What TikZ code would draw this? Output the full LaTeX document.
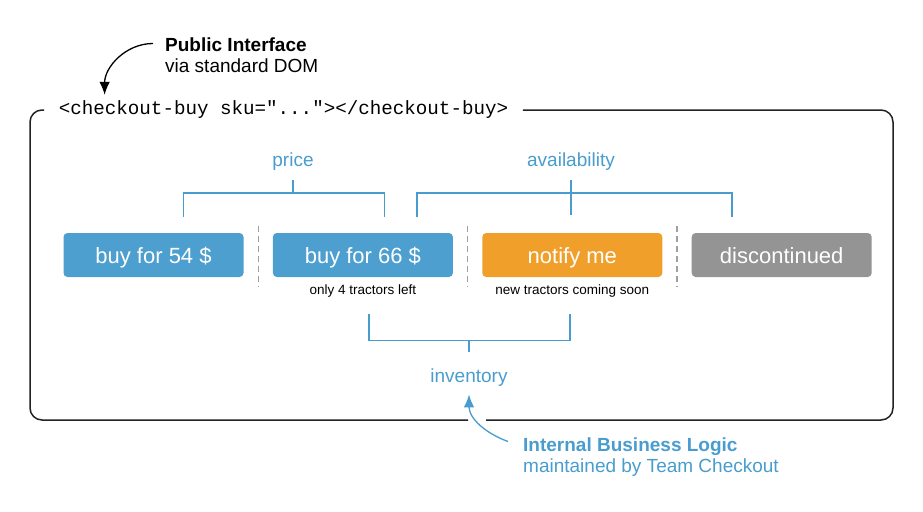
\documentclass[tikz,border=0pt]{standalone}
\usepackage{fontspec}
\setmainfont{Liberation Sans}
\setmonofont{Liberation Mono}
\usetikzlibrary{arrows.meta, positioning, calc}

\definecolor{btnblue}{RGB}{76,159,206}
\definecolor{lblblue}{RGB}{72,157,206}
\definecolor{btnorange}{RGB}{240,160,42}
\definecolor{btngray}{RGB}{148,148,148}
\definecolor{framegray}{RGB}{34,34,34}

\begin{document}
\begin{tikzpicture}[x=1pt, y=-1pt, node distance=29pt,
    btn/.style={rounded corners=4pt, minimum width=180pt, minimum height=44pt, inner sep=0pt,
      text height=19pt, text depth=3pt, text=white, font=\fontsize{22}{24}\selectfont},
    lbl/.style={text=lblblue, font=\fontsize{19}{22}\selectfont},
    note/.style={inner sep=0pt, font=\fontsize{13.5}{15}\selectfont},
    callout/.style={anchor=west, align=left, inner sep=0pt, font=\fontsize{19}{21}\selectfont},
    bracket/.style={draw=lblblue, line width=1.4pt},
    sep/.style={draw=gray!75, line width=1.4pt, dash pattern=on 6pt off 4pt},
    outline/.style={draw=framegray, line width=1.5pt, rounded corners=12pt},
    pointer/.style={-{Latex[length=13pt,width=10.5pt]}, line width=1.3pt}]
  \useasboundingbox (0,0) rectangle (923,511);
  % custom element tag and component frame
  \node[font=\ttfamily\fontsize{19.2}{22}\selectfont, inner xsep=14.5pt, inner ysep=0pt] (tag) at (283.5,110)
    {<checkout-buy sku="..."></checkout-buy>};
  \draw[outline] (tag.west) -- (30,110) -- (30,420) -- (468,420);
  \draw[outline] (tag.east) -- (893,110) -- (893,420) -- (486,420);
  \node[callout] (pub) at (165,55.5) {\textbf{Public Interface}\\via standard DOM};
  \draw[pointer]
    ([xshift=-12pt,yshift=12pt]pub.west) to[out=180,in=90] ([xshift=60.5pt,yshift=6pt]tag.north west);
  % buttons
  \node[btn, fill=btnblue] (b1) at (153.5,255) {buy for 54 \$};
  \node[btn, fill=btnblue, right=of b1] (b2) {buy for 66 \$};
  \node[btn, fill=btnorange, right=of b2] (b3) {notify me};
  \node[btn, fill=btngray, right=of b3] (b4) {discontinued};
  \node[note, below=7pt of b2] (n2) {only 4 tractors left};
  \node[note, below=7pt of b3] (n3) {new tractors coming soon};
  \foreach \l/\r in {b1/b2, b2/b3, b3/b4}
    \draw[sep] ($(\l.east)!0.5!(\r.west)$) ++(0,-29) -- ++(0,61);
  % fragments
  \node[lbl] (price) at (293,162) {price};
  \node[lbl] (avail) at (571,162) {availability};
  \node[lbl] (inv) at (469,378) {inventory};
  \draw[bracket] (price) ++(0,18) -- ++(0,13);
  \draw[bracket] (b1.north) ++(30,-16) |- ++(201,-24) -- ++(0,24);
  \draw[bracket] (avail) ++(0,18) -- ++(0,35);
  \draw[bracket] (b2.north) ++(54,-16) |- ++(315,-24) -- ++(0,24);
  \draw[bracket] (b2.south) ++(6,37) |- ++(201,26) -- ++(0,-26);
  \draw[bracket] (inv) ++(0,-38) -- ++(0,12);
  \node[callout, text=lblblue] (ibl) at (523,457.5) {\textbf{Internal Business Logic}\\maintained by Team Checkout};
  \draw[pointer, lblblue]
    ([xshift=-15pt,yshift=16pt]ibl.west) to[out=160,in=-90] ([yshift=-4pt]inv.south);
\end{tikzpicture}
\end{document}
